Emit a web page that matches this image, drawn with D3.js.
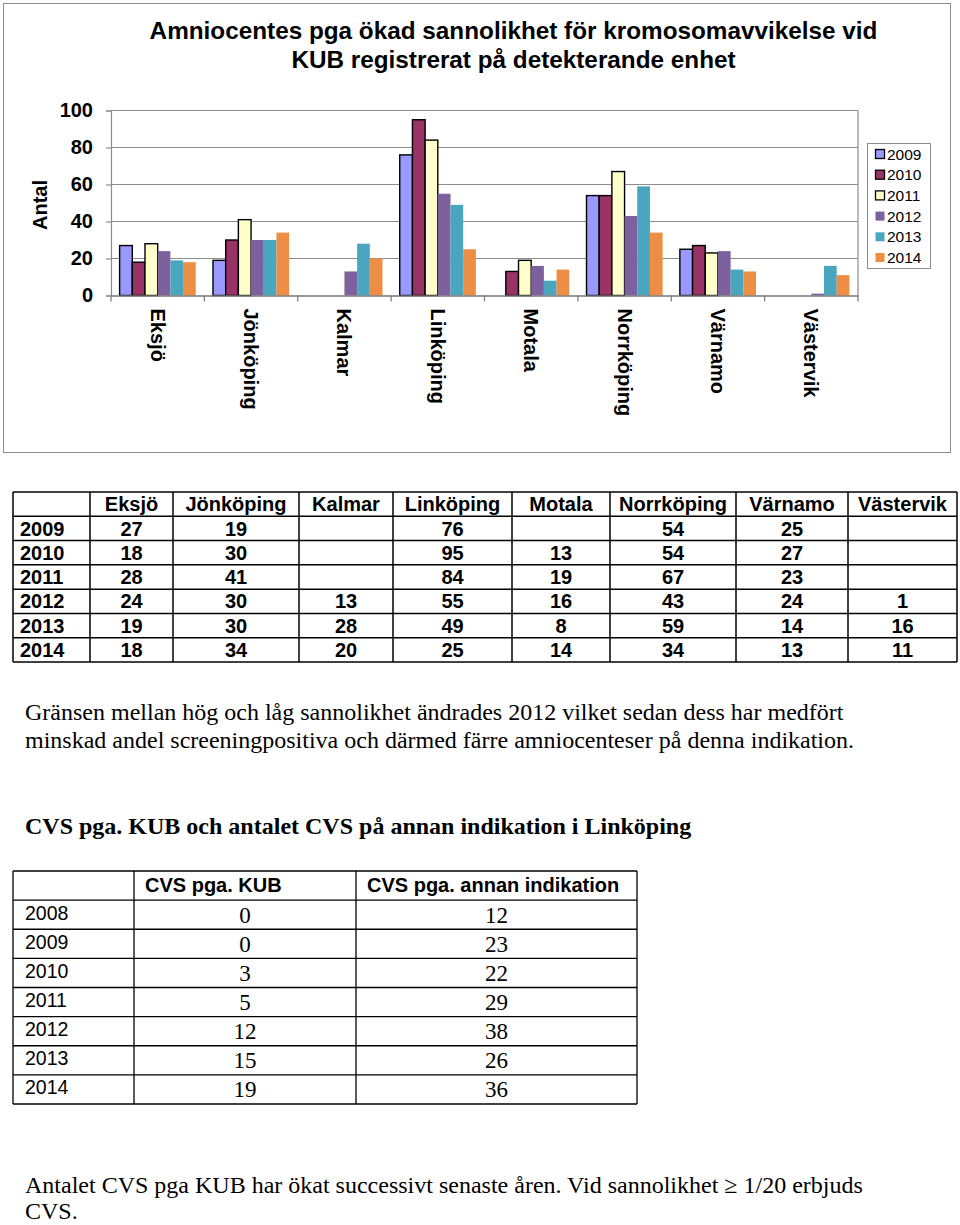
<!DOCTYPE html>
<html><head><meta charset="utf-8">
<script src="https://cdn.jsdelivr.net/npm/d3@7"></script>
<style>
body{margin:0;background:#fff}
svg{display:block}
.sans{font-family:"Liberation Sans",Arial,sans-serif}
.serif{font-family:"Liberation Serif","Times New Roman",serif}
</style>
</head><body>
<svg id="c" width="960" height="1225"></svg>
<script>
// ---------- data ----------
const categories = ["Eksjö","Jönköping","Kalmar","Linköping","Motala","Norrköping","Värnamo","Västervik"];
const years = ["2009","2010","2011","2012","2013","2014"];
const v2009 = [27, 19, null, 76, null, 54, 25, null];
const v2010 = [18, 30, null, 95, 13, 54, 27, null];
const v2011 = [28, 41, null, 84, 19, 67, 23, null];
const v2012 = [24, 30, 13, 55, 16, 43, 24, 1];
const v2013 = [19, 30, 28, 49, 8, 59, 14, 16];
const v2014 = [18, 34, 20, 25, 14, 34, 13, 11];
const yTicks = [0, 20, 40, 60, 80, 100];
const titleLines = ["Amniocentes pga ökad sannolikhet för kromosomavvikelse vid", "KUB registrerat på detekterande enhet"];
const yTitle = "Antal";

const noteLines = ["Gränsen mellan hög och låg sannolikhet ändrades 2012 vilket sedan dess har medfört",
                   "minskad andel screeningpositiva och därmed färre amniocenteser på denna indikation."];
const cvsTitle = "CVS pga. KUB och antalet CVS på annan indikation i Linköping";
const cvsHeaders = ["CVS pga. KUB", "CVS pga. annan indikation"];
const cvsYears = ["2008","2009","2010","2011","2012","2013","2014"];
const cvsKub = [0, 0, 3, 5, 12, 15, 19];
const cvsOther = [12, 23, 22, 29, 38, 26, 36];
const footLines = ["Antalet CVS pga KUB har ökat successivt senaste åren. Vid sannolikhet \u2265 1/20 erbjuds", "CVS."];

// ---------- styling ----------
const series = [v2009, v2010, v2011, v2012, v2013, v2014];
const colors = ["#9999FF", "#993366", "#FFFFCC", "#7D609E", "#4AA6BF", "#EE8E45"];
const outlined = [true, true, true, false, false, false];
const grid = "#8c8c8c";

const svg = d3.select("#c");

// chart frame
svg.append("rect").attr("x", 3.5).attr("y", 3.5).attr("width", 947).attr("height", 449)
  .attr("fill", "#fff").attr("stroke", grid).attr("stroke-width", 1);

// title
svg.append("g").selectAll("text").data(titleLines).join("text")
  .attr("class", "sans").attr("x", 513.5).attr("y", (d, i) => 39 + i * 29)
  .attr("text-anchor", "middle").attr("font-weight", "bold").attr("font-size", 24.3)
  .attr("fill", "#000").text(d => d);

// scales
const plotL = 111, plotR = 858, plotT = 110.5, plotB = 295.5;
const y = d3.scaleLinear().domain([0, 100]).range([plotB, plotT]);
const x0 = d3.scaleBand().domain(categories).range([plotL, plotR]);
const x1 = d3.scaleBand().domain(years).range([0, x0.bandwidth()]).paddingOuter(0.68).paddingInner(0);

// gridlines
svg.append("g").selectAll("line").data(yTicks.filter(t => t > 0)).join("line")
  .attr("x1", plotL).attr("x2", plotR).attr("y1", d => y(d)).attr("y2", d => y(d))
  .attr("stroke", grid).attr("stroke-width", 1.2);
svg.append("line").attr("x1", plotR).attr("x2", plotR).attr("y1", plotT).attr("y2", plotB)
  .attr("stroke", grid).attr("stroke-width", 1.2);

// bars
const gBars = svg.append("g");
series.forEach((vals, si) => {
  gBars.append("g").selectAll("rect")
    .data(categories.map((c, ci) => ({c, v: vals[ci]})).filter(d => d.v != null))
    .join("rect")
    .attr("x", d => x0(d.c) + x1(years[si]))
    .attr("y", d => y(d.v))
    .attr("width", x1.bandwidth())
    .attr("height", d => y(0) - y(d.v))
    .attr("fill", colors[si])
    .attr("stroke", outlined[si] ? "#000" : "none")
    .attr("stroke-width", outlined[si] ? 1.4 : 0);
});

// y axis
const yAxis = svg.append("g").attr("transform", `translate(${plotL},0)`)
  .call(d3.axisLeft(y).tickValues(yTicks).tickSize(5).tickPadding(13));
yAxis.select(".domain").attr("stroke", grid).attr("stroke-width", 1.2);
yAxis.selectAll(".tick line").attr("stroke", grid).attr("stroke-width", 1.2);
yAxis.selectAll("text").attr("class", "sans").attr("font-size", 20).attr("font-weight", "bold")
  .attr("fill", "#000");

// y title
svg.append("text").attr("class", "sans").attr("transform", "translate(47,205) rotate(-90)")
  .attr("text-anchor", "middle").attr("font-size", 20).attr("font-weight", "bold").text(yTitle);

// x axis
const xAxis = svg.append("g").attr("transform", `translate(0,${plotB})`)
  .call(d3.axisBottom(x0).tickSize(0).tickPadding(0));
xAxis.select(".domain").attr("stroke", "#777").attr("stroke-width", 1.4);
xAxis.selectAll("text")
  .attr("class", "sans").attr("font-size", 20).attr("font-weight", "bold").attr("fill", "#000")
  .attr("transform", "rotate(90)").attr("x", 13).attr("y", 0).attr("dy", "0.35em")
  .style("text-anchor", "start");
// category separator ticks
const edges = categories.map(c => x0(c)).concat([plotR]);
svg.append("g").selectAll("line").data(edges).join("line")
  .attr("x1", d => d).attr("x2", d => d).attr("y1", plotB).attr("y2", plotB + 6)
  .attr("stroke", "#777").attr("stroke-width", 1.2);

// legend
const lg = svg.append("g");
lg.append("rect").attr("x", 867.5).attr("y", 143.5).attr("width", 63).attr("height", 125)
  .attr("fill", "#fff").attr("stroke", grid);
const lgY = d3.scalePoint().domain(years).range([154, 257.5]);
const items = lg.selectAll("g.it").data(years).join("g").attr("class", "it")
  .attr("transform", d => `translate(0,${lgY(d)})`);
items.append("rect").attr("x", 875.5).attr("y", -4.5).attr("width", 9).attr("height", 9)
  .attr("fill", (d, i) => colors[i]).attr("stroke", (d, i) => outlined[i] ? "#000" : "none")
  .attr("stroke-width", 1.3);
items.append("text").attr("class", "sans").attr("x", 887).attr("y", 0).attr("dy", "0.36em")
  .attr("font-size", 15.5).text(d => d);

// ---------- table 1 ----------
const t1Cols = ["year"].concat(categories);
const t1Edges = [13, 90, 173, 299, 393, 512, 610, 736, 848, 957];
const t1Left = d3.scaleOrdinal().domain(t1Cols).range(t1Edges.slice(0, -1));
const t1Right = d3.scaleOrdinal().domain(t1Cols).range(t1Edges.slice(1));
const t1Rows = ["header"].concat(years);
const t1Y = d3.scaleBand().domain(t1Rows).range([492, 662]);
const t1 = svg.append("g");
t1.selectAll("line.h").data(t1Rows.map(r => t1Y(r)).concat([662])).join("line").attr("class", "h")
  .attr("x1", 13).attr("x2", 957).attr("y1", d => d).attr("y2", d => d)
  .attr("stroke", "#000").attr("stroke-width", 1.5);
t1.selectAll("line.v").data(t1Edges).join("line").attr("class", "v")
  .attr("x1", d => d).attr("x2", d => d).attr("y1", 492).attr("y2", 662)
  .attr("stroke", "#000").attr("stroke-width", 1.5);
const cellText = (sel) => sel.attr("class", "sans").attr("font-size", 20).attr("font-weight", "bold")
  .attr("dy", "0.36em").attr("fill", "#000");
t1.selectAll("text.hd").data(categories).join("text").call(cellText)
  .attr("x", d => (t1Left(d) + t1Right(d)) / 2).attr("y", t1Y("header") + t1Y.bandwidth() / 2)
  .attr("text-anchor", "middle").text(d => d);
t1.selectAll("text.yr").data(years).join("text").call(cellText)
  .attr("x", 20).attr("y", d => t1Y(d) + t1Y.bandwidth() / 2).text(d => d);
series.forEach((vals, si) => {
  t1.append("g").selectAll("text")
    .data(categories.map((c, ci) => ({c, v: vals[ci]})).filter(d => d.v != null))
    .join("text").call(cellText)
    .attr("x", d => (t1Left(d.c) + t1Right(d.c)) / 2)
    .attr("y", t1Y(years[si]) + t1Y.bandwidth() / 2)
    .attr("text-anchor", "middle").text(d => d.v);
});

// ---------- notes ----------
svg.append("g").selectAll("text").data(noteLines).join("text")
  .attr("class", "serif").attr("x", 25).attr("y", (d, i) => 720 + i * 28)
  .attr("font-size", 24).text(d => d);
svg.append("text").attr("class", "serif").attr("x", 25).attr("y", 834)
  .attr("font-size", 24).attr("font-weight", "bold").text(cvsTitle);

// ---------- table 2 ----------
const t2Cols = ["year", "kub", "other"];
const t2Edges = [13, 134, 356, 637];
const t2Left = d3.scaleOrdinal().domain(t2Cols).range(t2Edges.slice(0, -1));
const t2Right = d3.scaleOrdinal().domain(t2Cols).range(t2Edges.slice(1));
const t2Rows = ["header"].concat(cvsYears);
const t2Y = d3.scaleBand().domain(t2Rows).range([871, 1104]);
const t2 = svg.append("g");
t2.selectAll("line.h").data(t2Rows.map(r => t2Y(r)).concat([1104])).join("line").attr("class", "h")
  .attr("x1", 13).attr("x2", 637).attr("y1", d => d).attr("y2", d => d)
  .attr("stroke", "#000").attr("stroke-width", 1.3);
t2.selectAll("line.v").data(t2Edges).join("line").attr("class", "v")
  .attr("x1", d => d).attr("x2", d => d).attr("y1", 871).attr("y2", 1104)
  .attr("stroke", "#000").attr("stroke-width", 1.3);
t2.selectAll("text.hd").data(cvsHeaders).join("text").attr("class", "sans")
  .attr("x", (d, i) => t2Left(t2Cols[i + 1]) + 11).attr("y", t2Y("header") + t2Y.bandwidth() / 2 - 1)
  .attr("dy", "0.36em").attr("font-size", 20).attr("font-weight", "bold").text(d => d);
t2.selectAll("text.yr").data(cvsYears).join("text").attr("class", "sans")
  .attr("x", 25).attr("y", d => t2Y(d) + t2Y.bandwidth() / 2 - 2)
  .attr("dy", "0.36em").attr("font-size", 19.5).text(d => d);
[cvsKub, cvsOther].forEach((vals, k) => {
  const col = t2Cols[k + 1];
  t2.append("g").selectAll("text").data(vals).join("text").attr("class", "serif")
    .attr("x", (t2Left(col) + t2Right(col)) / 2)
    .attr("y", (d, i) => t2Y(cvsYears[i]) + t2Y.bandwidth() / 2)
    .attr("dy", "0.34em").attr("text-anchor", "middle").attr("font-size", 23).text(d => d);
});

// ---------- footer ----------
svg.append("g").selectAll("text").data(footLines).join("text")
  .attr("class", "serif").attr("x", 25).attr("y", (d, i) => 1193 + i * 26)
  .attr("font-size", 24).text(d => d);
</script>
</body></html>
